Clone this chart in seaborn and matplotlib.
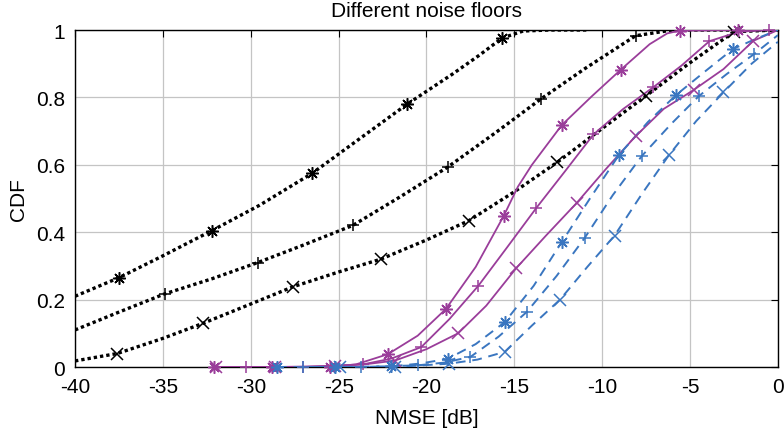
import matplotlib
matplotlib.use("Agg")
import matplotlib.pyplot as plt
import seaborn as sns
import numpy as np

# curvas (x en dB, y = CDF)
blk_star_x = [-40, -37.5, -35, -32.2, -29.5, -26.5, -24, -21.1, -18.5, -17, -15.7, -14.5, -13, -10.8]
blk_star_y = [0.21, 0.265, 0.33, 0.405, 0.48, 0.575, 0.67, 0.78, 0.87, 0.925, 0.976, 0.997, 1.0, 1.0]
blk_plus_x = [-40, -37.5, -34.9, -32.2, -29.6, -27, -24.2, -21.5, -18.8, -16, -13.5, -11, -8.1, -6, 0]
blk_plus_y = [0.11, 0.163, 0.217, 0.262, 0.31, 0.362, 0.42, 0.505, 0.593, 0.698, 0.795, 0.885, 0.983, 1.0, 1.0]
blk_x_x = [-40, -37.6, -35, -32.7, -30, -27.6, -25, -22.6, -20, -17.6, -15, -12.55, -10, -7.5, -5, -2.5, 0]
blk_x_y = [0.018, 0.04, 0.085, 0.13, 0.187, 0.238, 0.282, 0.32, 0.377, 0.434, 0.52, 0.608, 0.708, 0.805, 0.903, 0.995, 1.0]

pur_star_x = [-32.1, -28.8, -25.5, -24, -22.2, -20.5, -18.9, -17.2, -15.6, -14.8, -14, -12.3, -10.6, -8.95, -7.3, -6.3, -5.6, -2.3, 0]
pur_star_y = [0, 0, 0, 0.008, 0.038, 0.093, 0.172, 0.297, 0.449, 0.535, 0.6, 0.718, 0.803, 0.882, 0.958, 0.99, 0.998, 1.0, 1.0]
pur_plus_x = [-30.25, -27, -23.6, -22, -20.3, -18.7, -17.05, -15.4, -13.75, -12.1, -10.5, -8.8, -7.1, -5.5, -3.9, -2.2, -0.5, 0]
pur_plus_y = [0, 0, 0.008, 0.025, 0.059, 0.142, 0.241, 0.356, 0.472, 0.582, 0.69, 0.766, 0.83, 0.894, 0.967, 0.995, 1.0, 1.0]
pur_x_x = [-32, -28.6, -25.2, -23.5, -21.8, -20, -18.2, -16.6, -14.9, -13.2, -11.45, -9.8, -8.1, -6.5, -4.8, -3.1, -1.4, 0]
pur_x_y = [0, 0, 0.003, 0.008, 0.019, 0.053, 0.1, 0.182, 0.293, 0.39, 0.487, 0.587, 0.685, 0.766, 0.822, 0.884, 0.968, 1.0]

blu_star_x = [-28.5, -25.2, -22, -20.4, -18.8, -17.2, -15.55, -13.9, -12.3, -10.7, -9.05, -7.4, -5.8, -4.2, -2.55, -1.2, 0]
blu_star_y = [0, 0, 0.002, 0.01, 0.024, 0.068, 0.133, 0.241, 0.371, 0.5, 0.629, 0.727, 0.807, 0.875, 0.944, 0.975, 1.0]
blu_plus_x = [-27, -23.7, -20.5, -19, -17.5, -15.9, -14.3, -12.6, -11, -9.4, -7.75, -6.1, -4.5, -2.9, -1.35, 0]
blu_plus_y = [0, 0, 0.005, 0.013, 0.03, 0.09, 0.163, 0.27, 0.383, 0.51, 0.626, 0.72, 0.804, 0.87, 0.929, 0.985]
blu_x_x = [-24.9, -21.8, -18.7, -17.1, -15.55, -14, -12.4, -10.85, -9.3, -7.75, -6.2, -4.65, -3.1, -1.5, 0]
blu_x_y = [0, 0, 0.01, 0.022, 0.045, 0.123, 0.2, 0.297, 0.39, 0.513, 0.629, 0.73, 0.815, 0.9, 0.965]

# marcadores
blk_star_mx = [-37.5, -32.2, -26.5, -21.1, -15.7]
blk_star_my = [0.265, 0.405, 0.575, 0.78, 0.976]
blk_plus_mx = [-34.9, -29.6, -24.2, -18.8, -13.5, -8.1]
blk_plus_my = [0.217, 0.31, 0.42, 0.593, 0.795, 0.983]
blk_x_mx = [-37.6, -32.7, -27.6, -22.6, -17.6, -12.55, -7.5, -2.5]
blk_x_my = [0.04, 0.13, 0.238, 0.32, 0.434, 0.608, 0.805, 0.995]

pur_star_mx = [-32.1, -28.8, -25.5, -22.2, -18.9, -15.6, -12.3, -8.95, -5.6, -2.3]
pur_star_my = [0, 0, 0, 0.038, 0.172, 0.449, 0.718, 0.882, 0.998, 1.0]
pur_plus_mx = [-30.25, -27.0, -23.6, -20.3, -17.05, -13.75, -10.5, -7.1, -3.9, -0.5]
pur_plus_my = [0, 0, 0.008, 0.059, 0.241, 0.472, 0.69, 0.83, 0.967, 1.0]
pur_x_mx = [-32.0, -28.6, -25.2, -21.8, -18.2, -14.9, -11.45, -8.1, -4.8, -1.4]
pur_x_my = [0, 0, 0.003, 0.019, 0.1, 0.293, 0.487, 0.685, 0.822, 0.968]

blu_star_mx = [-28.5, -25.2, -22.0, -18.8, -15.55, -12.3, -9.05, -5.8, -2.55]
blu_star_my = [0, 0, 0.002, 0.024, 0.133, 0.371, 0.629, 0.807, 0.944]
blu_plus_mx = [-27.0, -23.7, -20.5, -17.5, -14.3, -11.0, -7.75, -4.5, -1.35]
blu_plus_my = [0, 0, 0.005, 0.03, 0.163, 0.383, 0.626, 0.804, 0.929]
blu_x_mx = [-24.9, -21.8, -18.7, -15.55, -12.4, -9.3, -6.2, -3.1]
blu_x_my = [0, 0, 0.01, 0.045, 0.2, 0.39, 0.629, 0.815]

x_ticks = [-40, -35, -30, -25, -20, -15, -10, -5, 0]
x_labels = ["-40", "-35", "-30", "-25", "-20", "-15", "-10", "-5", "0"]
y_ticks = [0, 0.2, 0.4, 0.6, 0.8, 1.0]
y_labels = ["0", "0.2", "0.4", "0.6", "0.8", "1"]

sns.set_style("white")
plt.rcParams["font.family"] = ["Liberation Sans", "DejaVu Sans"]
plt.rcParams["text.color"] = "black"
plt.rcParams["axes.labelcolor"] = "black"

fig = plt.figure(figsize=(7.84, 4.35), dpi=100)
ax = fig.add_axes([0.0957, 0.154, 0.8966, 0.7747])

negro = "black"
morado = "#9a3d9a"
azul = "#3a76c0"
asterisco = (8, 2, 0)
punteado = (0, (1.0, 0.9))
rayado = (0, (5, 3.5))

curvas = [
    (blk_star_x, blk_star_y, blk_star_mx, blk_star_my, negro, punteado, 2.4, asterisco),
    (blk_plus_x, blk_plus_y, blk_plus_mx, blk_plus_my, negro, punteado, 2.4, "+"),
    (blk_x_x, blk_x_y, blk_x_mx, blk_x_my, negro, punteado, 2.4, "x"),
    (pur_star_x, pur_star_y, pur_star_mx, pur_star_my, morado, "-", 1.3, asterisco),
    (pur_plus_x, pur_plus_y, pur_plus_mx, pur_plus_my, morado, "-", 1.3, "+"),
    (pur_x_x, pur_x_y, pur_x_mx, pur_x_my, morado, "-", 1.3, "x"),
    (blu_star_x, blu_star_y, blu_star_mx, blu_star_my, azul, rayado, 1.4, asterisco),
    (blu_plus_x, blu_plus_y, blu_plus_mx, blu_plus_my, azul, rayado, 1.4, "+"),
    (blu_x_x, blu_x_y, blu_x_mx, blu_x_my, azul, rayado, 1.4, "x"),
]

for cx, cy, mx, my, col, ls, lw, mk in curvas:
    sns.lineplot(x=cx, y=cy, ax=ax, color=col, linestyle=ls, linewidth=lw,
                 sort=False, estimator=None, zorder=3, dash_capstyle="butt")
    ax.plot(mx, my, linestyle="none", marker=mk, markersize=9,
            markeredgewidth=1.1, color=col, zorder=4, clip_on=False)

ax.set_xlim(-40, 0)
ax.set_ylim(0, 1)
ax.set_xticks(x_ticks)
ax.set_xticklabels(x_labels)
ax.set_yticks(y_ticks)
ax.set_yticklabels(y_labels)
ax.grid(True, color="#c4c4c4", linewidth=0.9)
ax.set_axisbelow(True)
for s in ax.spines.values():
    s.set_color("black")
    s.set_linewidth(1.0)
    s.set_visible(True)
ax.tick_params(direction="in", length=5, width=0.8, top=True, right=True,
               labelsize=15, pad=7, colors="black")
ax.set_xlabel("NMSE [dB]", fontsize=15, labelpad=9, color="black")
ax.set_ylabel("CDF", fontsize=15, labelpad=6, color="black")
ax.set_title("Different noise floors", fontsize=15, pad=10, color="black")

fig.savefig("out.png", dpi=100)
